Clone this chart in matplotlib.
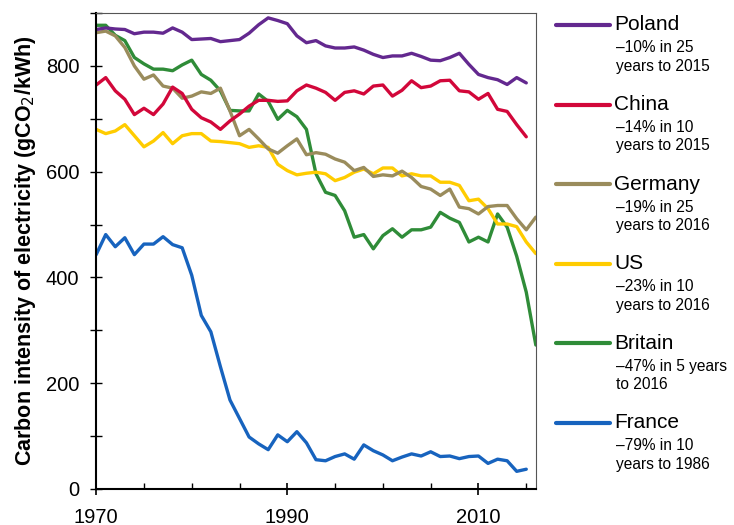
import matplotlib
matplotlib.use("Agg")
import matplotlib.pyplot as plt
from matplotlib.lines import Line2D
from matplotlib.ticker import MultipleLocator

plt.rcParams['font.family'] = ['Liberation Sans', 'DejaVu Sans']

years = list(range(1970, 2017))

poland = [869, 872, 870, 869, 861, 864, 864, 862, 872, 864, 850, 851, 852, 846, 848, 850,
          862, 878, 891, 886, 880, 857, 844, 848, 838, 834, 834, 836, 830, 822, 816, 819,
          819, 824, 818, 811, 810, 816, 824, 803, 784, 778, 774, 765, 778, 768]
china = [764, 778, 753, 737, 708, 720, 708, 728, 760, 748, 718, 702, 694, 680, 696, 709,
         724, 735, 735, 733, 734, 753, 764, 758, 750, 735, 750, 753, 747, 762, 764, 743,
         754, 772, 759, 762, 772, 773, 753, 751, 737, 748, 718, 714, 689, 666]
germany = [863, 866, 857, 835, 800, 775, 783, 762, 758, 739, 743, 751, 748, 758, 715, 668,
           680, 662, 643, 635, 649, 662, 632, 636, 633, 624, 618, 602, 608, 591, 594, 592,
           601, 589, 572, 567, 555, 567, 533, 530, 520, 534, 536, 536, 511, 490, 514]
us = [680, 672, 677, 689, 668, 647, 658, 674, 653, 668, 672, 672, 658, 657, 655, 653,
      646, 649, 646, 614, 602, 594, 597, 599, 596, 583, 589, 599, 605, 596, 607, 607,
      592, 596, 592, 592, 580, 580, 574, 545, 548, 530, 501, 501, 496, 467, 445]
britain = [877, 877, 858, 848, 816, 804, 794, 794, 791, 802, 811, 784, 773, 753, 716, 715,
           715, 747, 733, 699, 716, 704, 680, 596, 561, 555, 526, 476, 481, 454, 479, 492,
           476, 490, 490, 495, 523, 512, 504, 467, 476, 467, 520, 495, 440, 372, 272]
france = [443, 481, 458, 475, 443, 463, 463, 477, 462, 456, 404, 328, 297, 231, 168, 133,
          98, 85, 74, 102, 89, 108, 87, 55, 53, 61, 66, 56, 83, 72, 64, 53,
          60, 66, 62, 70, 61, 62, 57, 61, 62, 48, 56, 53, 33, 37]

names = ['Poland', 'China', 'Germany', 'US', 'Britain', 'France']
notes = ['\u201310% in 25\nyears to 2015', '\u201314% in 10\nyears to 2015',
         '\u201319% in 25\nyears to 2016', '\u201323% in 10\nyears to 2016',
         '\u201347% in 5 years\nto 2016', '\u201379% in 10\nyears to 1986']
colors = ['#63288f', '#d2073a', '#9a8c5c', '#ffcc00', '#2f8c38', '#1763be']
series = [poland, china, germany, us, britain, france]

fig = plt.figure(figsize=(7.34, 5.25), dpi=100)
ax = fig.add_axes([0.131, 0.069, 0.599, 0.906])

for vals, c in zip(series[::-1], colors[::-1]):
    ax.plot(years[:len(vals)], vals, color=c, lw=2.4, solid_capstyle='round', solid_joinstyle='round')

ax.set_xlim(1970, 2016)
ax.set_ylim(0, 900)
ax.set_xticks([1970, 1990, 2010])
ax.xaxis.set_minor_locator(MultipleLocator(5))
ax.yaxis.set_major_locator(MultipleLocator(200))
ax.yaxis.set_minor_locator(MultipleLocator(100))
ax.tick_params(axis='x', which='major', direction='inout', length=9, width=1.2, labelsize=14.5, pad=9)
ax.tick_params(axis='x', which='minor', direction='in', length=4, width=1)
ax.tick_params(axis='y', which='both', direction='inout', length=8, width=1, labelsize=14.5, pad=8)
ax.set_ylabel('Carbon intensity of electricity (gCO$_2$/kWh)', fontsize=15.5, fontweight='bold', labelpad=6)
for s in ['left', 'bottom']:
    ax.spines[s].set_linewidth(1.5)
for s in ['top', 'right']:
    ax.spines[s].set_linewidth(0.8)
    ax.spines[s].set_color('#555555')

# legend on the right
for i, (n, note, c) in enumerate(zip(names, notes, colors)):
    y = 1 - (25 + i * 79.6) / 525
    fig.add_artist(Line2D([556 / 734, 610 / 734], [y, y], color=c, lw=3, solid_capstyle='round'))
    fig.text(614 / 734, y, n, fontsize=15, va='center', ha='left')
    fig.text(616 / 734, y - 15.5 / 525, note, fontsize=11.2, va='top', ha='left', linespacing=1.28)

fig.savefig('out.png', dpi=100)
